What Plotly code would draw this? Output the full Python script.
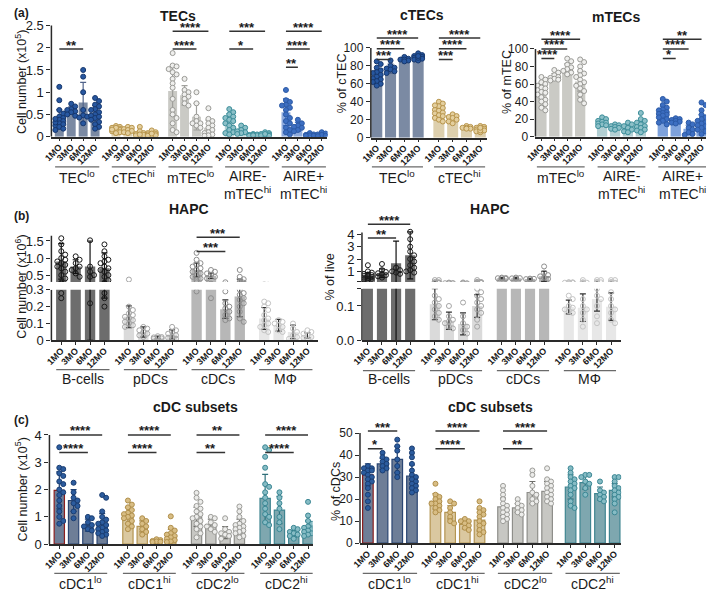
import plotly.graph_objects as go

W, H = 709, 598
FONT = "Liberation Sans, Arial, Helvetica, sans-serif"
INK = "#1a1a1a"
MO = ["1MO", "3MO", "6MO", "12MO"]

# ======================= DATA =======================
# (a) TECs, cell number x10^5
A1_GROUPS = ["TEC<sup>lo</sup>", "cTEC<sup>hi</sup>", "mTEC<sup>lo</sup>",
             "AIRE-<br>mTEC<sup>hi</sup>", "AIRE+<br>mTEC<sup>hi</sup>"]
A1_MEAN = [[0.39, 0.59, 0.77, 0.50], [0.17, 0.15, 0.08, 0.06], [1.03, 0.93, 0.45, 0.20],
           [0.34, 0.13, 0.04, 0.05], [0.55, 0.22, 0.04, 0.04]]
A1_SD = [[0.22, 0.08, 0.45, 0.20], [0.05, 0.05, 0.05, 0.03], [0.55, 0.22, 0.30, 0.17],
         [0.18, 0.06, 0.02, 0.03], [0.30, 0.10, 0.02, 0.03]]
A1_PTS = [
    [[1.12, 0.82, 0.6, 0.52, 0.45, 0.42, 0.38, 0.35, 0.3, 0.28, 0.25, 0.22, 0.18, 0.15, 0.32, 0.4],
     [0.74, 0.68, 0.62, 0.6, 0.57, 0.55, 0.5, 0.47],
     [1.5, 1.35, 1.0, 0.48, 0.45, 0.43, 0.3, 0.6],
     [0.87, 0.8, 0.72, 0.68, 0.62, 0.55, 0.5, 0.47, 0.42, 0.38, 0.33, 0.28, 0.22, 0.18, 0.45, 0.6]],
    [[0.24, 0.22, 0.2, 0.18, 0.17, 0.15, 0.14, 0.12, 0.1, 0.08, 0.2, 0.16],
     [0.22, 0.2, 0.17, 0.15, 0.13, 0.1, 0.08],
     [0.22, 0.12, 0.08, 0.06, 0.04, 0.03, 0.05],
     [0.14, 0.1, 0.08, 0.06, 0.05, 0.04, 0.03, 0.02, 0.07]],
    [[1.88, 1.6, 1.58, 1.52, 1.45, 1.4, 1.3, 1.2, 1.1, 0.85, 0.6, 0.5, 0.42, 0.3, 0.15, 0.1],
     [1.3, 1.05, 1.0, 0.95, 0.9, 0.85, 0.75, 0.7],
     [1.0, 0.75, 0.45, 0.35, 0.3, 0.3, 0.25, 0.2],
     [0.64, 0.4, 0.35, 0.3, 0.25, 0.2, 0.15, 0.1, 0.08, 0.05, 0.03, 0.02]],
    [[0.62, 0.55, 0.5, 0.45, 0.42, 0.38, 0.35, 0.3, 0.25, 0.2, 0.15, 0.1, 0.08, 0.05],
     [0.25, 0.2, 0.15, 0.12, 0.1, 0.08, 0.06],
     [0.06, 0.05, 0.04, 0.04, 0.03, 0.02, 0.03],
     [0.1, 0.08, 0.06, 0.05, 0.04, 0.03, 0.02, 0.06]],
    [[1.05, 0.82, 0.78, 0.72, 0.7, 0.65, 0.6, 0.5, 0.42, 0.35, 0.3, 0.2, 0.15, 0.1, 0.05],
     [0.38, 0.3, 0.25, 0.22, 0.2, 0.15, 0.12],
     [0.08, 0.05, 0.04, 0.03, 0.02, 0.02],
     [0.1, 0.07, 0.05, 0.04, 0.02, 0.01]],
]
A1_SIG = [(0, 0, 2, 1.97, "**"), (2, 0, 3, 2.37, "****"), (2, 0, 2, 1.97, "****"),
          (3, 0, 3, 2.37, "***"), (3, 0, 2, 1.97, "*"), (4, 0, 3, 2.37, "****"),
          (4, 0, 2, 1.97, "****"), (4, 0, 1, 1.56, "**")]

# (a) cTECs, % of cTEC
A2_GROUPS = ["TEC<sup>lo</sup>", "cTEC<sup>hi</sup>"]
A2_MEAN = [[68, 77, 87, 89], [29, 22, 11, 9]]
A2_SD = [[7, 5, 2, 2], [7, 4, 1.5, 2]]
A2_PTS = [
    [[85, 82, 78, 75, 73, 70, 68, 66, 65, 63, 62, 60, 58, 72],
     [86, 80, 78, 77, 76, 74, 72],
     [90, 88, 87, 87, 86, 85],
     [94, 92, 91, 90, 90, 89, 88, 88, 87, 86, 89, 91]],
    [[40, 38, 35, 33, 31, 30, 28, 27, 25, 24, 22, 20, 18, 36],
     [26, 24, 23, 22, 20, 18, 16],
     [13, 12, 11, 11, 10, 10],
     [13, 12, 11, 10, 10, 9, 9, 8, 7, 6, 8, 11]],
]
A2_SIG = [(0, 0, 3, 111, "****"), (0, 0, 2, 99, "****"), (0, 0, 1, 87, "***"),
          (1, 0, 3, 111, "****"), (1, 0, 2, 99, "****"), (1, 0, 1, 87, "***")]

# (a) mTECs, % of mTEC
A3_GROUPS = ["mTEC<sup>lo</sup>", "AIRE-<br>mTEC<sup>hi</sup>", "AIRE+<br>mTEC<sup>hi</sup>"]
A3_MEAN = [[52, 68, 77, 63], [16, 11, 10, 13], [27, 18, 9, 17]]
A3_SD = [[9, 4, 6, 11], [3.5, 3, 4, 5], [7, 3, 4, 8]]
A3_PTS = [
    [[68, 65, 62, 60, 58, 56, 55, 53, 51, 50, 48, 45, 42, 40, 37, 33, 30],
     [76, 73, 70, 68, 67, 66, 65, 64],
     [89, 86, 82, 79, 77, 75, 73, 71],
     [88, 85, 80, 75, 72, 70, 68, 65, 62, 60, 58, 55, 52, 48, 42, 38]],
    [[22, 20, 18, 17, 16, 15, 14, 13, 12],
     [14, 13, 12, 11, 10, 9, 8],
     [16, 14, 12, 10, 8, 6, 5],
     [27, 20, 18, 16, 14, 12, 11, 10, 8, 7, 5]],
    [[43, 40, 36, 33, 31, 30, 28, 27, 26, 25, 24, 22, 20, 18, 16, 14],
     [21, 20, 19, 18, 17, 16, 15],
     [16, 14, 10, 8, 5, 3, 2],
     [39, 36, 30, 25, 22, 20, 18, 16, 15, 13, 12, 10, 8, 6, 3]],
]
A3_SIG = [(0, 0, 3, 111, "****"), (0, 0, 2, 100, "****"), (0, 0, 1, 89, "****"),
          (2, 0, 3, 111, "**"), (2, 0, 2, 100, "****"), (2, 0, 1, 89, "*")]

# (b) HAPC, cell number x10^6
B_GROUPS = ["B-cells", "pDCs", "cDCs", "MΦ"]
B1_MEAN = [[0.9, 0.75, 0.75, 0.7], [0.14, 0.05, 0.018, 0.035], [0.65, 0.48, 0.185, 0.26], [0.13, 0.09, 0.05, 0.03]]
B1_SD = [[0.52, 0.2, 0.75, 0.45], [0.065, 0.03, 0.008, 0.027], [0.2, 0.08, 0.055, 0.12], [0.065, 0.035, 0.04, 0.015]]
B1_PTS = [
    [[1.58, 1.4, 1.2, 1.1, 1.0, 0.95, 0.9, 0.85, 0.8, 0.75, 0.7, 0.6, 0.5, 0.4, 0.28, 0.25],
     [1.05, 0.95, 0.85, 0.75, 0.7, 0.65, 0.55, 0.45],
     [1.52, 0.75, 0.6, 0.5, 0.45, 0.22],
     [1.4, 1.2, 1.05, 0.95, 0.9, 0.85, 0.75, 0.7, 0.65, 0.6, 0.5, 0.45, 0.35, 0.28, 0.25, 0.2]],
    [[0.37, 0.2, 0.18, 0.16, 0.15, 0.14, 0.13, 0.12, 0.11, 0.1, 0.09, 0.08],
     [0.08, 0.07, 0.06, 0.05, 0.04, 0.03, 0.02],
     [0.025, 0.02, 0.018, 0.015, 0.012, 0.01],
     [0.08, 0.06, 0.05, 0.04, 0.03, 0.02, 0.015, 0.01]],
    [[1.15, 0.95, 0.85, 0.8, 0.75, 0.7, 0.65, 0.6, 0.55, 0.5, 0.45, 0.4, 0.35, 0.29],
     [0.65, 0.6, 0.55, 0.5, 0.45, 0.4, 0.25],
     [0.29, 0.22, 0.2, 0.19, 0.17, 0.15, 0.13, 0.12],
     [0.65, 0.45, 0.38, 0.3, 0.28, 0.27, 0.25, 0.24, 0.22, 0.2, 0.17, 0.13, 0.11]],
    [[0.23, 0.22, 0.2, 0.18, 0.15, 0.13, 0.12, 0.1, 0.09, 0.08, 0.06, 0.05],
     [0.12, 0.11, 0.1, 0.09, 0.08, 0.06, 0.05],
     [0.1, 0.07, 0.05, 0.03, 0.02, 0.01],
     [0.06, 0.05, 0.04, 0.03, 0.02, 0.015]],
]
B1_SIG = [(2, 0, 3, 1.61, "***"), (2, 0, 2, 1.19, "***")]

# (b) HAPC, % of live
B2_MEAN = [[0.65, 0.85, 1.65, 2.3], [0.105, 0.057, 0.048, 0.1], [0.45, 0.45, 0.38, 0.6], [0.097, 0.095, 0.12, 0.098]]
B2_SD = [[0.25, 0.35, 1.8, 1.9], [0.045, 0.025, 0.032, 0.033], [0.05, 0.05, 0.04, 0.4], [0.02, 0.04, 0.035, 0.04]]
B2_PTS = [
    [[1.5, 1.0, 0.9, 0.8, 0.75, 0.7, 0.65, 0.6, 0.55, 0.5, 0.45, 0.4, 0.35, 0.3, 0.25],
     [1.6, 1.1, 0.95, 0.85, 0.8, 0.7, 0.6, 0.5],
     [1.3, 1.1, 1.0, 0.9, 0.8],
     [4.2, 3.6, 3.0, 2.6, 2.3, 2.0, 1.8, 1.5, 1.3, 1.1, 1.0, 0.9]],
    [[0.3, 0.3, 0.13, 0.12, 0.11, 0.1, 0.09, 0.08, 0.07, 0.06],
     [0.1, 0.07, 0.06, 0.055, 0.05, 0.04, 0.035],
     [0.11, 0.07, 0.05, 0.04, 0.03, 0.02],
     [0.3, 0.15, 0.14, 0.13, 0.12, 0.11, 0.1, 0.09, 0.08, 0.06, 0.04]],
    [[0.5, 0.47, 0.45, 0.43, 0.4],
     [0.5, 0.46, 0.44, 0.42],
     [0.42, 0.4, 0.38, 0.35],
     [1.4, 0.9, 0.7, 0.6, 0.5, 0.4]],
    [[0.13, 0.12, 0.1, 0.095, 0.09, 0.085, 0.08],
     [0.3, 0.12, 0.1, 0.09, 0.08, 0.06, 0.04],
     [0.3, 0.3, 0.15, 0.13, 0.12, 0.1, 0.07, 0.05],
     [0.3, 0.3, 0.14, 0.12, 0.1, 0.09, 0.08, 0.06, 0.05]],
]
B2_SIG = [(0, 0, 3, 4.8, "****"), (0, 0, 2, 3.69, "**")]

# (c) cDC subsets
C_GROUPS = ["cDC1<sup>lo</sup>", "cDC1<sup>hi</sup>", "cDC2<sup>lo</sup>", "cDC2<sup>hi</sup>"]
C1_MEAN = [[1.97, 1.6, 0.7, 0.77], [1.05, 0.65, 0.12, 0.32], [1.0, 0.72, 0.42, 0.65], [1.68, 1.25, 0.38, 0.6]]
C1_SD = [[0.68, 0.4, 0.22, 0.35], [0.3, 0.2, 0.04, 0.22], [0.35, 0.2, 0.22, 0.27], [0.88, 0.5, 0.12, 0.25]]
C1_PTS = [
    [[3.55, 2.8, 2.75, 2.6, 2.5, 2.3, 2.2, 2.0, 1.9, 1.8, 1.6, 1.4, 1.2, 1.0, 0.85, 0.75],
     [2.25, 1.9, 1.7, 1.6, 1.5, 1.4, 1.2, 0.95],
     [1.0, 0.95, 0.8, 0.7, 0.65, 0.55, 0.5],
     [1.8, 1.7, 1.2, 1.0, 0.9, 0.8, 0.75, 0.7, 0.6, 0.55, 0.5, 0.45, 0.4, 0.35, 0.3]],
    [[1.6, 1.45, 1.35, 1.25, 1.15, 1.1, 1.05, 1.0, 0.95, 0.85, 0.75, 0.65, 0.55],
     [0.95, 0.85, 0.75, 0.65, 0.55, 0.45, 0.35],
     [0.18, 0.15, 0.12, 0.1, 0.09, 0.08],
     [1.02, 0.6, 0.5, 0.4, 0.35, 0.3, 0.25, 0.2, 0.15, 0.1, 0.08]],
    [[1.88, 1.7, 1.55, 1.4, 1.3, 1.2, 1.1, 1.0, 0.95, 0.85, 0.75, 0.65, 0.55, 0.4, 0.25],
     [1.0, 0.95, 0.8, 0.7, 0.65, 0.55, 0.45],
     [0.95, 0.55, 0.45, 0.4, 0.35, 0.3, 0.2],
     [1.38, 1.2, 1.0, 0.85, 0.75, 0.7, 0.65, 0.6, 0.55, 0.5, 0.45, 0.4, 0.3, 0.25]],
    [[3.55, 3.45, 3.2, 2.8, 2.2, 2.1, 1.9, 1.7, 1.5, 1.3, 1.1, 1.0, 0.8, 0.7],
     [1.9, 1.7, 1.5, 1.3, 1.0, 0.8, 0.55],
     [0.6, 0.55, 0.45, 0.4, 0.35, 0.3, 0.2],
     [1.55, 1.05, 0.85, 0.75, 0.65, 0.6, 0.55, 0.5, 0.45, 0.4, 0.35, 0.3]],
]
C1_SIG = [(0, 0, 3, 4.0, "****"), (0, 0, 2, 3.36, "****"), (1, 0, 3, 4.0, "****"), (1, 0, 2, 3.36, "****"),
          (2, 0, 3, 4.0, "**"), (2, 0, 2, 3.36, "**"), (3, 0, 3, 4.0, "****"), (3, 0, 2, 3.36, "****")]

C2_MEAN = [[31, 36, 38, 30.5], [19, 14, 8.5, 10.5], [16.5, 16, 23, 23.5], [25.5, 27.5, 22.5, 24]]
C2_SD = [[5, 2.5, 6, 5], [3.5, 3, 2, 5], [4, 2, 5, 4.5], [5.5, 3, 3, 3]]
C2_PTS = [
    [[35, 34, 34, 33, 33, 32, 31, 30, 29, 28, 27, 25, 22, 19, 16],
     [41, 39, 38, 37, 36, 35, 34, 33],
     [47, 44, 42, 38, 35, 32, 30],
     [43, 41, 39, 36, 33, 31, 30, 29, 28, 27, 26, 25, 24, 23]],
    [[27, 22, 21, 20, 19, 18, 18, 17, 16, 15, 14],
     [19, 18, 16, 14, 12, 10, 9],
     [11, 10, 10, 9, 8, 7, 6],
     [19, 16, 15, 14, 13, 12, 10, 9, 8, 6, 5, 4]],
    [[26, 24, 22, 20, 18, 17, 16, 15, 14, 13, 12, 11, 10],
     [20, 18, 17, 16, 15, 14, 13],
     [33, 31, 26, 23, 22, 20, 19, 18],
     [34, 29, 28, 27, 26, 25, 24, 23, 22, 21, 20, 19, 18]],
    [[34, 32, 30, 29, 28, 27, 26, 25, 24, 22, 19, 17, 16],
     [31, 31, 30, 28, 27, 25, 22],
     [28, 24, 23, 22, 21, 20, 19],
     [30, 30, 28, 26, 25, 24, 23, 22, 21, 20, 18, 14]],
]
C2_SIG = [(0, 0, 2, 50.9, "***"), (0, 0, 1, 42.9, "*"), (1, 0, 3, 50.9, "****"),
          (1, 0, 2, 42.9, "****"), (2, 0, 3, 50.9, "****"), (2, 0, 2, 42.9, "**")]

# ======================= STYLES =======================
SLATE = dict(bar="#7b8aa3", pf="#2757a0", pe="#17386e", err="#50638a")
TAN = dict(bar="#ddcfad", pf="#e4cf9e", pe="#b8954c", err="#b8a070")
GREYO = dict(bar="#cacac5", pf="#efefed", pe="#9a9a96", err="#a0a09c")
TEALL = dict(bar="#b2cfd3", pf="#8cc0c8", pe="#3d8e9a", err="#5e9ea8")
BLUE1 = dict(bar="#8eabdd", pf="#3d6fc2", pe="#2c5aa6", err="#3d6fc2")
BLUE3 = dict(bar="#7ea2dc", pf="#3d6fc2", pe="#2c5aa6", err="#3d6fc2")
BDARK = dict(bar="#6d6d6d", pf="rgba(255,255,255,0)", pe="#1a1a1a", err="#111111")
PLIGHT = dict(bar="#dadada", pf="rgba(255,255,255,0)", pe="#a5a5a5", err="#333333")
CMID = dict(bar="#b7b7b7", pf="rgba(255,255,255,0)", pe="#8e8e8e", err="#333333")
MPALE = dict(bar="#e7e7e7", pf="rgba(255,255,255,0)", pe="#c4c4c4", err="#333333")
C_SLATE = dict(bar="#6e7e97", line=["#8b1e1e", "#2b4673", "#2b4673", "#2b4673"], lw=1.2,
               pf="#2c5c9e", pe="#1b3e72", err="#1b3e72")
C_TAN = dict(bar="#dac8a0", line="#b49552", lw=1.2, pf="#d8bd84", pe="#b08f4b", err="#a88a4a")
C_GREY = dict(bar="#c7c7c3", line="#8e8e8a", lw=1.2, pf="#ececea", pe="#9c9c98", err="#6e6e6a")
C_TEAL = dict(bar="#7ea7af", line="#3f8591", lw=1.2, pf="#86bcc5", pe="#3c8794", err="#2f6f7a")


def seg(y, bottom, top, vmin, scale, tickvals, ticktext, axis_top):
    return dict(y=y, bottom=bottom, top=top, vmin=vmin, scale=scale,
                tickvals=tickvals, ticktext=ticktext, axis_top=axis_top)


PANELS = [
    dict(x=1, groups=A1_GROUPS, mean=A1_MEAN, sd=A1_SD, pts=A1_PTS, sig=A1_SIG,
         styles=[SLATE, TAN, GREYO, TEALL, BLUE1],
         xl=42, xr=322, x0=50, unit=12.1, goff=4.75, bw=0.75, sigseg=0, tf=13,
         segs=[seg(1, 133, 14, 0, 45.6, [0, 0.5, 1, 1.5, 2, 2.5], ["0", "0.5", "1", "1.5", "2", "2.5"], 2.5)],
         gline=164, gtext=163, title="TECs", txy=(170, 9),
         ytitle="Cell number (x10<sup>5</sup>)", yxy=(11, 77)),
    dict(x=2, groups=A2_GROUPS, mean=A2_MEAN, sd=A2_SD, pts=A2_PTS, sig=A2_SIG,
         styles=[SLATE, TAN],
         xl=366, xr=484, x0=372, unit=14, goff=4.5, bw=0.8, sigseg=0, tf=12,
         segs=[seg(2, 134, 20, 0, 0.92, [0, 20, 40, 60, 80, 100], ["0", "20", "40", "60", "80", "100"], 100)],
         gline=164, gtext=163, title="cTECs", txy=(418, 8),
         ytitle="% of cTEC", yxy=(337, 78)),
    dict(x=3, groups=A3_GROUPS, mean=A3_MEAN, sd=A3_SD, pts=A3_PTS, sig=A3_SIG,
         styles=[GREYO, TEALL, BLUE3],
         xl=533, xr=706, x0=539, unit=13.1, goff=4.7, bw=0.8, sigseg=0, tf=12,
         segs=[seg(3, 133, 20, 0, 0.9, [0, 20, 40, 60, 80, 100], ["0", "20", "40", "60", "80", "100"], 100)],
         gline=164, gtext=163, title="mTECs", txy=(615, 10),
         ytitle="% of mTEC", yxy=(504, 77)),
    dict(x=4, groups=B_GROUPS, mean=B1_MEAN, sd=B1_SD, pts=B1_PTS, sig=B1_SIG,
         styles=[BDARK, PLIGHT, CMID, MPALE],
         xl=42, xr=312, x0=52, unit=14.6, goff=4.7, bw=0.72, sigseg=1, tf=13,
         segs=[seg(4, 342, 290, 0, 173.3, [0, 0.1, 0.2, 0.3], ["0", "0.1", "0.2", "0.3"], 0.3),
               seg(5, 282, 224, 0.3, 35, [0.5, 1.0, 1.5], ["0.5", "1.0", "1.5"], 1.65)],
         gline=372, gtext=371, title="HAPC", txy=(182, 207),
         ytitle="Cell number (x10<sup>6</sup>)", yxy=(11, 287)),
    dict(x=5, groups=B_GROUPS, mean=B2_MEAN, sd=B2_SD, pts=B2_PTS, sig=B2_SIG,
         styles=[BDARK, PLIGHT, CMID, MPALE],
         xl=357, xr=620, x0=363, unit=14.3, goff=4.75, bw=0.72, sigseg=1, tf=13,
         segs=[seg(6, 342, 289, 0, 353.3, [0, 0.1, 0.15], ["0.0", "0.1", ""], 0.15),
               seg(7, 282, 212, 0.15, 12.7, [0.15, 1, 2, 3, 4], ["", "1", "2", "3", "4"], 4.15)],
         gline=373, gtext=371, title="HAPC", txy=(487, 207),
         ytitle="% of live", yxy=(325, 277)),
    dict(x=6, groups=C_GROUPS, mean=C1_MEAN, sd=C1_SD, pts=C1_PTS, sig=C1_SIG,
         styles=[C_SLATE, C_TAN, C_GREY, C_TEAL],
         xl=40, xr=307, x0=50, unit=14.5, goff=4.8, bw=0.72, sigseg=0, tf=13,
         segs=[seg(8, 551, 426, 0, 28, [0, 1, 2, 3, 4], ["0", "1", "2", "3", "4"], 4)],
         gline=581, gtext=580, title="cDC subsets", txy=(188, 410),
         ytitle="Cell number (x10<sup>5</sup>)", yxy=(11, 495)),
    dict(x=7, groups=C_GROUPS, mean=C2_MEAN, sd=C2_SD, pts=C2_PTS, sig=C2_SIG,
         styles=[C_SLATE, C_TAN, C_GREY, C_TEAL],
         xl=355, xr=620, x0=363, unit=14.9, goff=4.6, bw=0.72, sigseg=0, tf=12,
         segs=[seg(9, 550, 426, 0, 2.26, [0, 10, 20, 30, 40, 50], ["0", "10", "20", "30", "40", "50"], 50)],
         gline=581, gtext=580, title="cDC subsets", txy=(487, 410),
         ytitle="% of cDCs", yxy=(330, 497)),
]


def fx(px):
    return px / W


def fy(py):
    return 1 - py / H


def aref(letter, n):
    return letter if n == 1 else f"{letter}{n}"


def aname(letter, n):
    return f"{letter}axis" if n == 1 else f"{letter}axis{n}"


def swarm(vals, ypx, unit_px, ms):
    order = sorted(range(len(vals)), key=lambda k: -vals[k])
    step = ms * 0.8
    cands = [0.0]
    for k in range(1, 7):
        cands += [k * step, -k * step]
    lim = 0.34 * unit_px
    cands = [c for c in cands if abs(c) <= lim]
    mind = ms * 0.85
    placed, offs = [], [0.0] * len(vals)
    for k in order:
        yp = ypx(vals[k])
        best, bestc, bestd = None, 0.0, -1
        for c in cands:
            d = min([((c - a) ** 2 + (yp - b) ** 2) ** 0.5 for a, b in placed] or [1e9])
            if d >= mind:
                best = c
                break
            if d > bestd:
                bestd, bestc = d, c
        if best is None:
            best = bestc
        placed.append((best, yp))
        offs[k] = best / unit_px
    return offs


fig = go.Figure()
shapes, annots, layout = [], [], {}
MS = 5
LINE = "#2a2a2a"

for P in PANELS:
    n = P["x"]
    xr_ = aref("x", n)
    ng = len(P["groups"])
    pos = [[g * P["goff"] + i for i in range(4)] for g in range(ng)]
    allpos = [p for row in pos for p in row]
    segs = P["segs"]
    layout[aname("x", n)] = dict(
        domain=[fx(P["xl"]), fx(P["xr"])],
        range=[(P["xl"] - P["x0"]) / P["unit"], (P["xr"] - P["x0"]) / P["unit"]],
        anchor=aref("y", segs[0]["y"]), tickmode="array", tickvals=allpos, ticktext=MO * ng,
        tickangle=-45, tickfont=dict(family=FONT, size=9, color=INK, weight="bold"),
        ticklabelstandoff=-3,
        showline=True, linecolor=LINE, linewidth=1.5, ticks="outside", ticklen=3,
        tickwidth=1.2, tickcolor=LINE, showgrid=False, zeroline=False, fixedrange=True)

    def ypx(v, segs=segs):
        s = segs[0]
        if len(segs) > 1 and v > segs[0]["axis_top"]:
            s = segs[1]
        return s["bottom"] - (v - s["vmin"]) * s["scale"]

    for s in segs:
        yr_ = aref("y", s["y"])
        layout[aname("y", s["y"])] = dict(
            domain=[fy(s["bottom"]), fy(s["top"])],
            range=[s["vmin"], s["vmin"] + (s["bottom"] - s["top"]) / s["scale"]],
            anchor=xr_, tickmode="array", tickvals=s["tickvals"], ticktext=s["ticktext"],
            tickfont=dict(family=FONT, size=P["tf"], color=INK), ticks="outside", ticklen=4,
            tickwidth=1.2, tickcolor=LINE, showline=False, showgrid=False, zeroline=False,
            fixedrange=True)
        shapes.append(dict(type="line", xref="paper", yref=yr_, x0=fx(P["xl"]), x1=fx(P["xl"]),
                           y0=s["vmin"], y1=s["axis_top"], line=dict(color=LINE, width=1.5)))
        for g in range(ng):
            st = P["styles"][g]
            fig.add_trace(go.Bar(
                x=pos[g], y=P["mean"][g], width=P["bw"], xaxis=xr_, yaxis=yr_,
                marker=dict(color=st["bar"], line=dict(color=st.get("line", st["bar"]), width=st.get("lw", 0))),
                error_y=dict(type="data", array=P["sd"][g], visible=True, color=st["err"],
                             thickness=1.2, width=3),
                hoverinfo="skip", showlegend=False))
            xs, ys = [], []
            for i in range(4):
                vals = P["pts"][g][i]
                offs = swarm(vals, ypx, P["unit"], MS)
                xs += [pos[g][i] + o for o in offs]
                ys += vals
            fig.add_trace(go.Scatter(
                x=xs, y=ys, mode="markers", xaxis=xr_, yaxis=yr_,
                marker=dict(size=MS, color=st["pf"], line=dict(color=st["pe"], width=1)),
                hoverinfo="skip", showlegend=False))

    # significance bars
    syr = aref("y", segs[P["sigseg"]]["y"])
    for (g, i0, i1, v, txt) in P["sig"]:
        shapes.append(dict(type="line", xref=xr_, yref=syr, x0=pos[g][i0], x1=pos[g][i1],
                           y0=v, y1=v, line=dict(color="#333333", width=1.5)))
        annots.append(dict(x=(pos[g][i0] + pos[g][i1]) / 2, y=v, xref=xr_, yref=syr, text=txt,
                           showarrow=False, yanchor="middle", yshift=4, borderpad=0,
                           font=dict(family=FONT, size=13, color=INK, weight="bold")))

    # group labels
    for g in range(ng):
        shapes.append(dict(type="line", xref=xr_, yref="paper", x0=pos[g][0] - 0.35,
                           x1=pos[g][3] + 0.35, y0=fy(P["gline"]), y1=fy(P["gline"]),
                           line=dict(color="#6a6a6a", width=1.3)))
        annots.append(dict(x=(pos[g][0] + pos[g][3]) / 2, y=fy(P["gtext"]), xref=xr_, yref="paper",
                           text=P["groups"][g], showarrow=False, yanchor="top",
                           font=dict(family=FONT, size=14, color=INK)))

    annots.append(dict(x=fx(P["txy"][0]), y=fy(P["txy"][1]), xref="paper", yref="paper",
                       text=P["title"], showarrow=False, xanchor="center", yanchor="middle",
                       font=dict(family=FONT, size=14, color=INK, weight="bold")))
    annots.append(dict(x=fx(P["yxy"][0]), y=fy(P["yxy"][1]), xref="paper", yref="paper",
                       text=P["ytitle"], showarrow=False, textangle=-90, xanchor="center",
                       yanchor="middle", font=dict(family=FONT, size=12.5, color=INK)))

for lab, (lx, ly) in [("(a)", (2, 6)), ("(b)", (2, 214)), ("(c)", (2, 424))]:
    annots.append(dict(x=fx(lx), y=fy(ly), xref="paper", yref="paper", text=lab, showarrow=False,
                       xanchor="left", yanchor="middle",
                       font=dict(family=FONT, size=12, color=INK, weight="bold")))

fig.update_layout(
    width=W, height=H, margin=dict(l=0, r=0, t=0, b=0),
    paper_bgcolor="white", plot_bgcolor="white", barmode="overlay",
    showlegend=False, shapes=shapes, annotations=annots,
    font=dict(family=FONT, color=INK), **layout)

fig.write_html("out.html", config={"displayModeBar": False},
               post_script="document.body.style.margin='0';document.body.style.overflow='hidden';")
